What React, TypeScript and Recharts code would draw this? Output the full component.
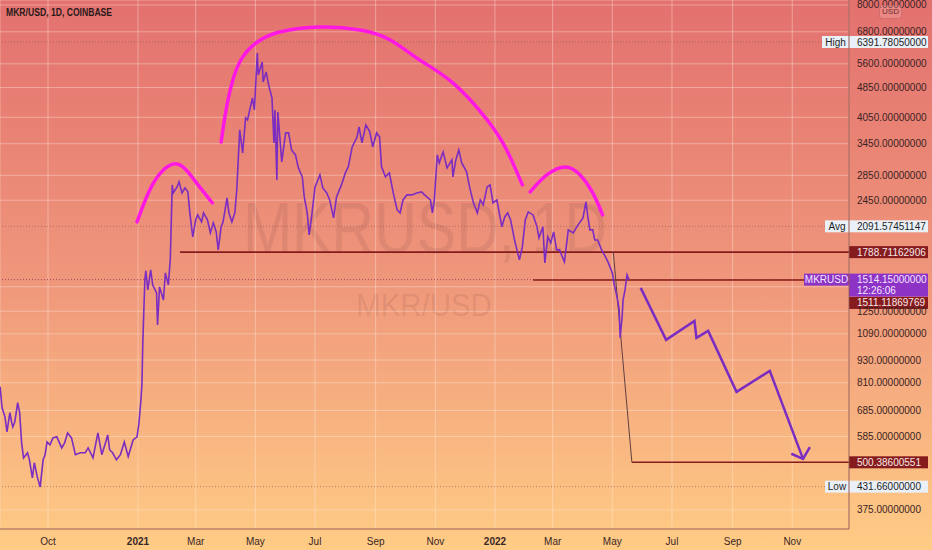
import React from 'react';
import { ComposedChart, Line, XAxis, YAxis, CartesianGrid, ReferenceLine } from 'recharts';

// ---- price series (day offset from 2021-01-01, USD) ----
const priceDays = [
  -141, -139, -136, -134, -131, -129, -128, -126, -123, -121,
  -119, -117, -113, -111, -108, -106, -103, -100, -97, -95,
  -93, -90, -87, -83, -78, -75, -72, -68, -64, -59,
  -54, -51, -46, -41, -37, -33, -31, -29, -26, -22,
  -18, -14, -10, -5, -1, 1, 3, 4, 5, 7,
  8, 10, 13, 15, 19, 20, 22, 26, 28, 31,
  33, 35, 36, 40, 42, 45, 48, 51, 53, 56,
  59, 61, 65, 67, 71, 74, 77, 80, 82, 85,
  87, 91, 93, 96, 99, 101, 104, 107, 110, 112,
  117, 119, 122, 123, 127, 128, 131, 134, 137, 139,
  140, 142, 143, 147, 151, 154, 157, 161, 164, 168,
  170, 173, 175, 178, 181, 186, 189, 193, 196, 200,
  203, 208, 212, 215, 219, 224, 226, 229, 233, 237,
  240, 244, 247, 249, 253, 257, 261, 265, 268, 271,
  275, 280, 285, 290, 293, 299, 301, 303, 306, 308,
  312, 316, 321, 322, 325, 328, 331, 336, 339, 343,
  347, 350, 353, 357, 360, 363, 367, 372, 375, 378,
  381, 385, 390, 393, 396, 399, 404, 408, 410, 414,
  416, 419, 422, 425, 428, 431, 436, 440, 445, 450,
  455, 458, 460, 462, 465, 467, 470, 474, 478, 481,
  485, 487, 490, 492, 493, 495, 496, 498, 500, 502,
];
const priceValues = [
  791, 696, 659, 602, 676, 635, 620, 639, 718, 676,
  563, 514, 530, 508, 455, 499, 458, 431, 508, 524,
  566, 556, 580, 584, 546, 563, 598, 580, 524, 530,
  530, 546, 514, 598, 524, 566, 591, 540, 530, 508,
  524, 566, 518, 573, 584, 635, 731, 800, 1051, 1512,
  1596, 1423, 1606, 1467, 1397, 1151, 1449, 1339, 1577, 1467,
  1707, 2688, 2561, 2656, 2738, 2561, 2640, 2577, 2268, 1962,
  2175, 2241, 2149, 2268, 2175, 2010, 2136, 2022, 1813, 2085,
  2149, 2485, 2268, 2149, 2268, 2608, 3752, 3263, 4035, 3987,
  4555, 4235, 5980, 5237, 5664, 5019, 5333, 4869, 4555, 3467,
  4235, 2771, 4184, 3090, 3684, 3684, 3323, 3224, 2980, 2822,
  2500, 2268, 1986, 2268, 2656, 2856, 2640, 2561, 2455, 2201,
  2500, 2688, 2891, 2998, 3384, 3596, 3821, 3467, 3868, 3707,
  3384, 3684, 3596, 2998, 2822, 2891, 2561, 2310, 2268, 2455,
  2530, 2530, 2561, 2577, 2530, 2455, 2268, 2455, 3224, 3072,
  3283, 2980, 3128, 2822, 3128, 3323, 3072, 2909, 2656, 2411,
  2268, 2455, 2382, 2656, 2688, 2411, 2455, 2085, 2214, 2268,
  2175, 1926, 1707, 1846, 2175, 2282, 2241, 2085, 1950, 2085,
  1676, 1962, 1891, 2022, 1813, 1813, 1686, 2047, 2010, 2110,
  2201, 2425, 2214, 2047, 2047, 1926, 1926, 1813, 1738, 1676,
  1577, 1467, 1356, 1260, 1064, 1208, 1339, 1423, 1558, 1514,
];

// ---- axes ----
const xTickDays = [-92, 0, 59, 120, 181, 243, 304, 365, 424, 485, 546, 608, 669];
const xTickLabels = ['Oct', '2021', 'Mar', 'May', 'Jul', 'Sep', 'Nov', '2022', 'Mar', 'May', 'Jul', 'Sep', 'Nov'];
const yTicks = [375, 585, 685, 810, 930, 1090, 1250, 1450, 2450, 2850, 3450, 4050, 4850, 5600, 6800, 8000];
const yHiddenTicks = [1450];

// ---- drawings ----
const leftShoulderDays = [-1, 12, 26, 40, 51, 63, 76];
const leftShoulderValues = [2149, 2608, 2944, 3053, 2909, 2656, 2411];
const headDays = [85, 92, 104, 122, 145, 186, 227, 258, 288, 322, 357, 377, 393];
const headValues = [3488, 4500, 5664, 6393, 6793, 7003, 6876, 6471, 5733, 4988, 3987, 3323, 2688];
const rightShoulderDays = [401, 418, 437, 452, 465, 475];
const rightShoulderValues = [2577, 2856, 2998, 2856, 2561, 2241];
const projectionDays = [514, 540, 569, 571, 583, 612, 646, 680];
const projectionValues = [1440, 1051, 1179, 1064, 1110, 767, 871, 511];
const arrowHeadDays = [668, 680, 687];
const arrowHeadValues = [527, 511, 549];
const connectorDays = [486, 505];
const connectorValues = [1788.71162906, 500.38600551];

// ---- levels ----
const highValue = 6391.7805;
const avgValue = 2091.57451147;
const lowValue = 431.66;
const lastValue = 1514.15;
const neckValue = 1788.71162906;
const neckStart = 43;
const closeLineValue = 1511.11869769;
const closeLineStart = 404;
const targetValue = 500.38600551;
const targetStart = 505;
const lastTime = '12:26:06';
const endDay = 727;

const zip = (ds: number[], vs: number[]) => ds.map((d, i) => ({ d, p: vs[i] }));
const priceData = zip(priceDays, priceValues);

const FONT = '"Liberation Sans", Arial, sans-serif';
const PURPLE = '#7b2dc2';
const MAGENTA = '#ff17e4';
const DARKRED = '#861b1d';

type TagOpts = {
  text: string; sub?: string; side?: string; sideW?: number;
  bg: string; color: string; sideBg?: string; sideColor?: string; dy?: number;
};
const makeTag = (o: TagOpts) => (props: any) => {
  const vb = props.viewBox || {};
  const right = (vb.x || 0) + (vb.width || 0);
  const cy = (vb.y || 0) + (o.dy || 0);
  const h = o.sub ? 23 : 12;
  return (
    <g>
      {o.side && (
        <rect x={right - (o.sideW || 26)} y={cy - 6} width={o.sideW || 26} height={12} fill={o.sideBg} />
      )}
      {o.side && (
        <text x={right - (o.sideW || 26) / 2} y={cy} textAnchor="middle" dominantBaseline="central"
          fontSize={10} fontFamily={FONT} fill={o.sideColor}>{o.side}</text>
      )}
      <rect x={right} y={cy - 6} width={79} height={h} fill={o.bg} />
      <text x={right + 8} y={cy} dominantBaseline="central" fontSize={10} fontFamily={FONT} fill={o.color}>{o.text}</text>
      {o.sub && (
        <text x={right + 8} y={cy + 11} dominantBaseline="central" fontSize={10} fontFamily={FONT} fill={o.color}>{o.sub}</text>
      )}
    </g>
  );
};

const XTick = (props: any) => {
  const { x, y, payload } = props;
  const idx = xTickDays.indexOf(payload.value);
  const label = idx >= 0 ? xTickLabels[idx] : '';
  const bold = /^20/.test(label);
  return (
    <text x={x} y={y} dy={8} textAnchor="middle" fontSize={10} fontFamily={FONT}
      fontWeight={bold ? 700 : 400} fill="#3a2626">{label}</text>
  );
};

const YTick = (props: any) => {
  const { x, y, payload } = props;
  if (yHiddenTicks.includes(payload.value)) return <g />;
  return (
    <text x={x} y={y} dominantBaseline="central" fontSize={10} fontFamily={FONT} fill="#3a2323">
      {Number(payload.value).toFixed(8)}
    </text>
  );
};

export default function App() {
  return (
    <div style={{
      position: 'absolute', left: 0, top: 0, width: 932, height: 550, overflow: 'hidden',
      background: 'linear-gradient(180deg, #e3716f 0%, #ef967b 50%, #ffcc85 100%)',
      fontFamily: FONT,
    }}>
      <div style={{
        position: 'absolute', left: 0, top: 192, width: 850, textAlign: 'center',
        fontSize: 72, lineHeight: '72px', color: 'rgba(110,55,55,0.12)', whiteSpace: 'nowrap',
        transform: 'scaleX(0.82)', transformOrigin: '425px 0',
      }}>MKRUSD, 1D</div>
      <div style={{
        position: 'absolute', left: 0, top: 289, width: 848, textAlign: 'center',
        fontSize: 32, lineHeight: '32px', color: 'rgba(110,55,55,0.12)', whiteSpace: 'nowrap',
        transform: 'scaleX(0.92)', transformOrigin: '424px 0',
      }}>MKR/USD</div>
      <div style={{ position: 'absolute', left: 0, top: 0 }}>
        <ComposedChart width={932} height={550} margin={{ top: 0, right: 0, bottom: 0, left: 0 }}>
          <CartesianGrid stroke="rgba(255,238,228,0.38)" strokeWidth={1} />
          <XAxis dataKey="d" type="number" domain={[-141.1, endDay]} allowDataOverflow ticks={xTickDays}
            tick={<XTick />} tickLine={false} axisLine={{ stroke: '#98584c' }} height={21} interval={0} />
          <YAxis orientation="right" type="number" scale="log" domain={[334, 8245]} allowDataOverflow
            ticks={yTicks} tick={<YTick />} tickLine={false} axisLine={{ stroke: '#98584c' }} width={83} interval={0} />

          <ReferenceLine y={highValue} stroke="rgba(120,80,80,0.55)" strokeDasharray="1 2"
            label={makeTag({ text: '6391.78050000', side: 'High', sideW: 27, bg: '#e9f0f8', color: '#1f1f1f', sideBg: '#e9f0f8', sideColor: '#1f1f1f' })} />
          <ReferenceLine y={avgValue} stroke="rgba(120,80,80,0.55)" strokeDasharray="1 2"
            label={makeTag({ text: '2091.57451147', side: 'Avg', sideW: 24, bg: '#e9f0f8', color: '#1f1f1f', sideBg: '#e9f0f8', sideColor: '#1f1f1f' })} />
          <ReferenceLine y={lowValue} stroke="rgba(120,80,80,0.55)" strokeDasharray="1 2"
            label={makeTag({ text: '431.66000000', side: 'Low', sideW: 24, bg: '#e9f0f8', color: '#1f1f1f', sideBg: '#e9f0f8', sideColor: '#1f1f1f' })} />
          <ReferenceLine y={lastValue} stroke="rgba(130,40,80,0.7)" strokeDasharray="1 2" />

          <ReferenceLine segment={[{ x: neckStart, y: neckValue }, { x: endDay, y: neckValue }]} stroke={DARKRED} strokeWidth={1.6}
            label={makeTag({ text: '1788.71162906', bg: DARKRED, color: '#f6e8e8' })} />
          <ReferenceLine segment={[{ x: closeLineStart, y: closeLineValue }, { x: endDay, y: closeLineValue }]} stroke={DARKRED} strokeWidth={1.6}
            label={makeTag({ text: '1511.11869769', bg: DARKRED, color: '#f6e8e8', dy: 23 })} />
          <ReferenceLine segment={[{ x: targetStart, y: targetValue }, { x: endDay, y: targetValue }]} stroke={DARKRED} strokeWidth={1.6}
            label={makeTag({ text: '500.38600551', bg: DARKRED, color: '#f6e8e8' })} />
          <ReferenceLine y={lastValue} stroke="none"
            label={makeTag({ text: '1514.15000000', sub: lastTime, side: 'MKRUSD', sideW: 45, bg: '#8d33c6', color: '#f3e8ff', sideBg: '#8d33c6', sideColor: '#f3e8ff' })} />

          <Line data={zip(connectorDays, connectorValues)} dataKey="p" type="linear" stroke="#5f4040" strokeWidth={1}
            dot={false} activeDot={false} isAnimationActive={false} />
          <Line data={priceData} dataKey="p" type="linear" stroke={PURPLE} strokeWidth={1.6}
            dot={false} activeDot={false} isAnimationActive={false} />
          <Line data={zip(leftShoulderDays, leftShoulderValues)} dataKey="p" type="natural" stroke={MAGENTA} strokeWidth={3.5}
            strokeLinecap="round" dot={false} activeDot={false} isAnimationActive={false} />
          <Line data={zip(headDays, headValues)} dataKey="p" type="natural" stroke={MAGENTA} strokeWidth={3.5}
            strokeLinecap="round" dot={false} activeDot={false} isAnimationActive={false} />
          <Line data={zip(rightShoulderDays, rightShoulderValues)} dataKey="p" type="natural" stroke={MAGENTA} strokeWidth={3.5}
            strokeLinecap="round" dot={false} activeDot={false} isAnimationActive={false} />
          <Line data={zip(projectionDays, projectionValues)} dataKey="p" type="linear" stroke={PURPLE} strokeWidth={2.5}
            strokeLinejoin="miter" dot={false} activeDot={false} isAnimationActive={false} />
          <Line data={zip(arrowHeadDays, arrowHeadValues)} dataKey="p" type="linear" stroke={PURPLE} strokeWidth={2.5}
            dot={false} activeDot={false} isAnimationActive={false} />
        </ComposedChart>
      </div>
      <div style={{
        position: 'absolute', left: 6, top: 8, fontSize: 10, lineHeight: '10px', fontWeight: 700,
        color: '#2a1a1a', whiteSpace: 'nowrap', transform: 'scaleX(0.86)', transformOrigin: '0 0',
      }}>MKR/USD, 1D, COINBASE</div>
      <div style={{
        position: 'absolute', left: 879, top: 5, width: 21, height: 12, borderRadius: 3,
        border: '1px solid rgba(190,90,90,0.55)', background: 'rgba(255,200,200,0.25)',
        fontSize: 8, lineHeight: '12px', textAlign: 'center', color: '#6a2a2a',
      }}>USD</div>
    </div>
  );
}
